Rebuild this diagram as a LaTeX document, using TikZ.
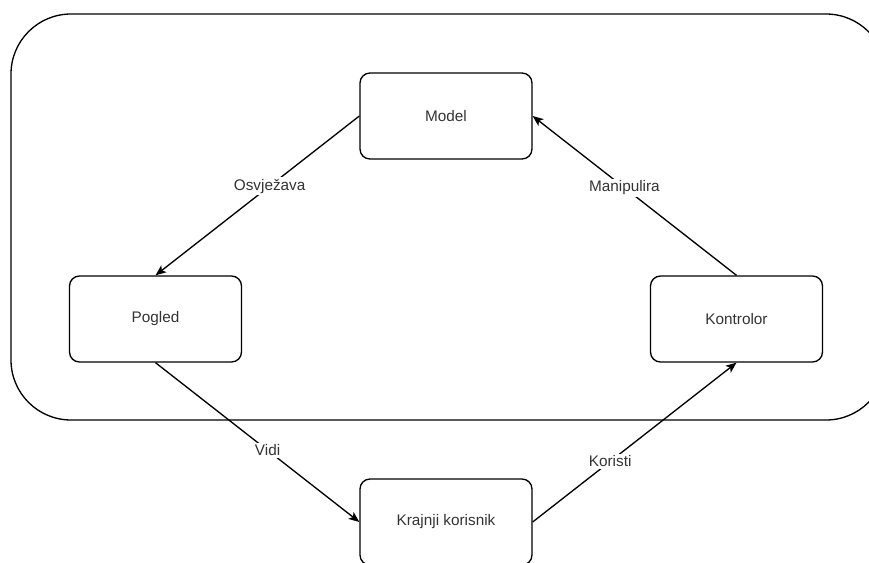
\documentclass[tikz,border=0pt]{standalone}
\usepackage{fontspec}
\setmainfont{Liberation Sans}
\usetikzlibrary{positioning, arrows.meta}

\begin{document}
\begin{tikzpicture}[
  x=0.75pt, y=-0.75pt,
  box/.style={draw, line width=1pt, rounded corners=7.5pt, minimum width=129pt,
    minimum height=64.5pt, align=center, font=\fontsize{11.5}{13}\selectfont,
    text=black!80},
  arrow/.style={-{Stealth[length=8pt, width=6.5pt, inset=2pt]}, line width=1pt},
  label/.style={fill=white, inner sep=1.5pt, font=\fontsize{11.5}{13}\selectfont,
    text=black!80}
]
\useasboundingbox (0,0) rectangle (869,562);
\clip (0,0) rectangle (869,562);

% outer frame
\draw[line width=1pt, rounded corners=45pt] (11,14) rectangle (886,420);

% MVC boxes
\node[box] (model) at (446,116) {Model};
\node[box] (pogled) at (155.5,319) {Pogled};
\node[box] (kontrolor) at (736.5,319) {Kontrolor};
\node[box] (korisnik) at (446,522) {Krajnji korisnik};

\draw[arrow] (model.west) -- node[pos=0.44, label] {Osvježava} (pogled.north);
\draw[arrow] (kontrolor.north) -- node[pos=0.55, label] {Manipulira} (model.east);
\draw[arrow] (pogled.south) -- node[pos=0.55, label] {Vidi} (korisnik.west);
\draw[arrow] (korisnik.east) -- node[pos=0.38, label] {Koristi} (kontrolor.south);

\end{tikzpicture}
\end{document}
